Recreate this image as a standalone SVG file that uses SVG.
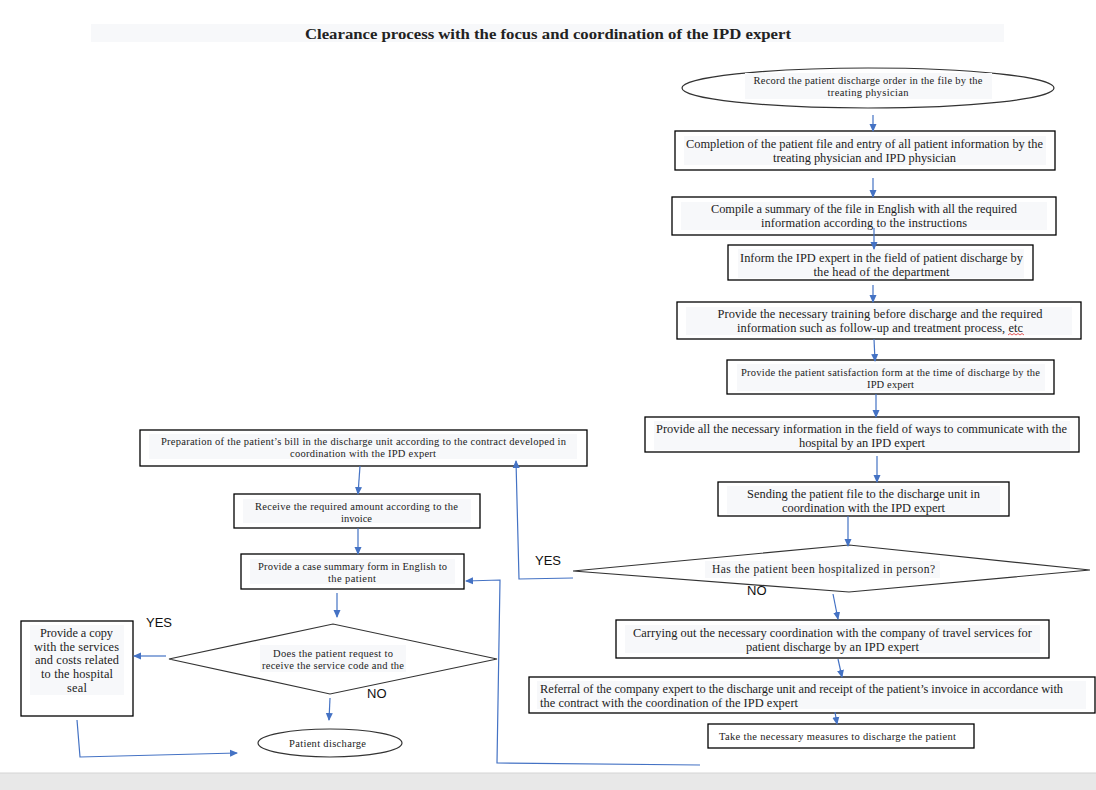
<svg xmlns="http://www.w3.org/2000/svg" width="1096" height="790" viewBox="0 0 1096 790">
<defs>
<marker id="ah" markerWidth="8" markerHeight="8" refX="7" refY="4" orient="auto" markerUnits="userSpaceOnUse">
<path d="M0,0.5 L8,4 L0,7.5 Z" fill="#4472c4"/>
</marker>
<style>
.box{fill:#fff;stroke:#000;stroke-width:1.3}
.shape{fill:#fff;stroke:#333;stroke-width:1.2}
.tbg{fill:#f7f8fa}
.t{font-family:"Liberation Serif","DejaVu Serif",serif;fill:#222;text-anchor:middle}
.b{font-size:12.4px}
.m{font-size:10.5px}
.s{font-family:"Liberation Sans",Arial,sans-serif;fill:#111;font-size:13px}
.c{fill:none;stroke:#4472c4;stroke-width:1.2}
</style>
</defs>
<rect width="1096" height="790" fill="#fff"/>
<rect x="0" y="773" width="1096" height="17" fill="#e8e8e8"/>
<line x1="0" y1="773" x2="1096" y2="773" stroke="#d4d4d4"/>

<g id="title">
<rect x="91" y="24" width="913" height="18" class="tbg"/>
<text x="548" y="39" class="t" style="font-size:15.5px;font-weight:bold" textLength="486" lengthAdjust="spacingAndGlyphs">Clearance process with the focus and coordination of the IPD expert</text>
</g>

<g id="n1">
<ellipse cx="868" cy="88" rx="186" ry="20" class="shape"/>
<rect x="745" y="73" width="247" height="26" class="tbg"/>
<text class="t m"><tspan x="868" y="84" textLength="229">Record the patient discharge order in the file by the</tspan><tspan x="868" y="96" textLength="81">treating physician</tspan></text>
</g>
<g id="n2">
<rect x="675" y="131" width="380" height="39" class="box"/>
<rect x="684" y="136" width="362" height="29" class="tbg"/>
<text class="t b"><tspan x="864.5" y="148" textLength="357">Completion of the patient file and entry of all patient information by the</tspan><tspan x="864.5" y="162" textLength="183">treating physician and IPD physician</tspan></text>
</g>
<g id="n3">
<rect x="672" y="197" width="384" height="38" class="box"/>
<rect x="681" y="202" width="366" height="28" class="tbg"/>
<text class="t b"><tspan x="864" y="213" textLength="306">Compile a summary of the file in English with all the required</tspan><tspan x="864" y="227" textLength="206">information according to the instructions</tspan></text>
</g>
<g id="n4">
<rect x="728" y="245" width="305" height="35" class="box"/>
<rect x="738" y="249" width="286" height="29" class="tbg"/>
<text class="t b"><tspan x="881.5" y="262" textLength="283">Inform the IPD expert in the field of patient discharge by</tspan><tspan x="881.5" y="276" textLength="136">the head of the department</tspan></text>
</g>
<g id="n5">
<rect x="677" y="302" width="404" height="37" class="box"/>
<rect x="686" y="307" width="386" height="28" class="tbg"/>
<text class="t b"><tspan x="880" y="318" textLength="325">Provide the necessary training before discharge and the required</tspan><tspan x="880" y="332" textLength="286">information such as follow-up and treatment process, etc</tspan></text>
<path d="M1008,335 l2,-1.5 2,1.5 2,-1.5 2,1.5 2,-1.5 2,1.5 2,-1.5 2,1.5" fill="none" stroke="#e03030" stroke-width="0.8"/>
</g>
<g id="n6">
<rect x="727" y="360" width="327" height="34" class="box"/>
<rect x="737" y="364" width="308" height="27" class="tbg"/>
<text class="t m"><tspan x="890.5" y="376" textLength="299">Provide the patient satisfaction form at the time of discharge by the</tspan><tspan x="890.5" y="388" textLength="47">IPD expert</tspan></text>
</g>
<g id="n7">
<rect x="645" y="417" width="434" height="35" class="box"/>
<rect x="654" y="421" width="416" height="29" class="tbg"/>
<text class="t b"><tspan x="861.5" y="433" textLength="411">Provide all the necessary information in the field of ways to communicate with the</tspan><tspan x="862" y="447" textLength="126">hospital by an IPD expert</tspan></text>
</g>
<g id="n8">
<rect x="718" y="482" width="291" height="34" class="box"/>
<rect x="727" y="486" width="273" height="28" class="tbg"/>
<text class="t b"><tspan x="863.5" y="498" textLength="233">Sending the patient file to the discharge unit in</tspan><tspan x="863.5" y="512" textLength="163">coordination with the IPD expert</tspan></text>
</g>
<g id="d1">
<polygon points="573,571 849,545 1090,570 849,592" class="shape"/>
<rect x="705" y="561" width="235" height="17" class="tbg"/>
<text x="823.5" y="573" class="t" style="font-size:11.5px" textLength="223">Has the patient been hospitalized in person?</text>
</g>
<g id="n9">
<rect x="616" y="620" width="433" height="38" class="box"/>
<rect x="625" y="625" width="415" height="28" class="tbg"/>
<text class="t b"><tspan x="832.5" y="637" textLength="399">Carrying out the necessary coordination with the company of travel services for</tspan><tspan x="832.5" y="651" textLength="173">patient discharge by an IPD expert</tspan></text>
</g>
<g id="n10">
<rect x="529" y="677" width="566" height="36" class="box"/>
<rect x="537" y="681" width="549" height="28" class="tbg"/>
<text class="t b" style="text-anchor:start"><tspan x="540" y="693" textLength="523">Referral of the company expert to the discharge unit and receipt of the patient’s invoice in accordance with</tspan><tspan x="540" y="707" textLength="258">the contract with the coordination of the IPD expert</tspan></text>
</g>
<g id="n11">
<rect x="708" y="724" width="266" height="24" class="box"/>
<text x="837.5" y="740" class="t m" textLength="237">Take the necessary measures to discharge the patient</text>
</g>

<g id="n12">
<rect x="140" y="430" width="447" height="36" class="box"/>
<rect x="149" y="434" width="428" height="25" class="tbg"/>
<text class="t m"><tspan x="363.5" y="445" textLength="405">Preparation of the patient’s bill in the discharge unit according to the contract developed in</tspan><tspan x="363" y="457" textLength="146">coordination with the IPD expert</tspan></text>
</g>
<g id="n13">
<rect x="234" y="494" width="246" height="34" class="box"/>
<rect x="243" y="499" width="228" height="24" class="tbg"/>
<text class="t m"><tspan x="356.5" y="510" textLength="203">Receive the required amount according to the</tspan><tspan x="356.5" y="522" textLength="31">invoice</tspan></text>
</g>
<g id="n14">
<rect x="241" y="554" width="223" height="35" class="box"/>
<rect x="250" y="559" width="205" height="25" class="tbg"/>
<text class="t m"><tspan x="352.5" y="570" textLength="189">Provide a case summary form in English to</tspan><tspan x="352" y="582" textLength="48">the patient</tspan></text>
</g>
<g id="d2">
<polygon points="169,659 333,624 497,659 330,694" class="shape"/>
<rect x="260" y="645" width="146" height="27" class="tbg"/>
<text class="t m"><tspan x="333" y="657" textLength="120">Does the patient request to</tspan><tspan x="333" y="669" textLength="142">receive the service code and the</tspan></text>
</g>
<g id="n15">
<rect x="21" y="621" width="112" height="95" class="box"/>
<rect x="30" y="625" width="94" height="70" class="tbg"/>
<text class="t" style="font-size:12.3px"><tspan x="76.5" y="637" textLength="73">Provide a copy</tspan><tspan x="76.5" y="651" textLength="85">with the services</tspan><tspan x="77" y="664" textLength="84">and costs related</tspan><tspan x="77" y="678" textLength="72">to the hospital</tspan><tspan x="77" y="692" textLength="20">seal</tspan></text>
</g>
<g id="n16">
<ellipse cx="330" cy="743" rx="72" ry="14" class="shape"/>
<text x="327.5" y="747" class="t m" textLength="77">Patient discharge</text>
</g>

<g id="labels">
<text x="535" y="565" class="s">YES</text>
<text x="747" y="595" class="s">NO</text>
<text x="146" y="627" class="s">YES</text>
<text x="367" y="698" class="s">NO</text>
</g>

<g id="connectors">
<line x1="873" y1="115" x2="873" y2="131" class="c" marker-end="url(#ah)"/>
<line x1="873" y1="178" x2="873" y2="197" class="c" marker-end="url(#ah)"/>
<line x1="874" y1="228" x2="874" y2="249" class="c" marker-end="url(#ah)"/>
<line x1="873" y1="285" x2="873" y2="302" class="c" marker-end="url(#ah)"/>
<line x1="874" y1="339" x2="875" y2="361" class="c" marker-end="url(#ah)"/>
<line x1="876" y1="394" x2="876" y2="417" class="c" marker-end="url(#ah)"/>
<line x1="877" y1="456" x2="877" y2="482" class="c" marker-end="url(#ah)"/>
<line x1="848" y1="516" x2="848" y2="546" class="c" marker-end="url(#ah)"/>
<line x1="833" y1="594" x2="838" y2="619" class="c" marker-end="url(#ah)"/>
<line x1="838" y1="659" x2="842" y2="677" class="c" marker-end="url(#ah)"/>
<line x1="835" y1="712" x2="837" y2="724" class="c" marker-end="url(#ah)"/>
<polyline points="573,578 519,579 516,461" class="c" marker-end="url(#ah)"/>
<polyline points="700,765 497,763 500,580 466,581" class="c" marker-end="url(#ah)"/>
<line x1="360" y1="466" x2="358" y2="494" class="c" marker-end="url(#ah)"/>
<line x1="358" y1="528" x2="358" y2="554" class="c" marker-end="url(#ah)"/>
<line x1="337" y1="593" x2="337" y2="617" class="c" marker-end="url(#ah)"/>
<line x1="166" y1="656" x2="134" y2="656" class="c" marker-end="url(#ah)"/>
<line x1="330" y1="698" x2="329" y2="720" class="c" marker-end="url(#ah)"/>
<polyline points="77,720 80,757 237,753" class="c" marker-end="url(#ah)"/>
</g>
</svg>
